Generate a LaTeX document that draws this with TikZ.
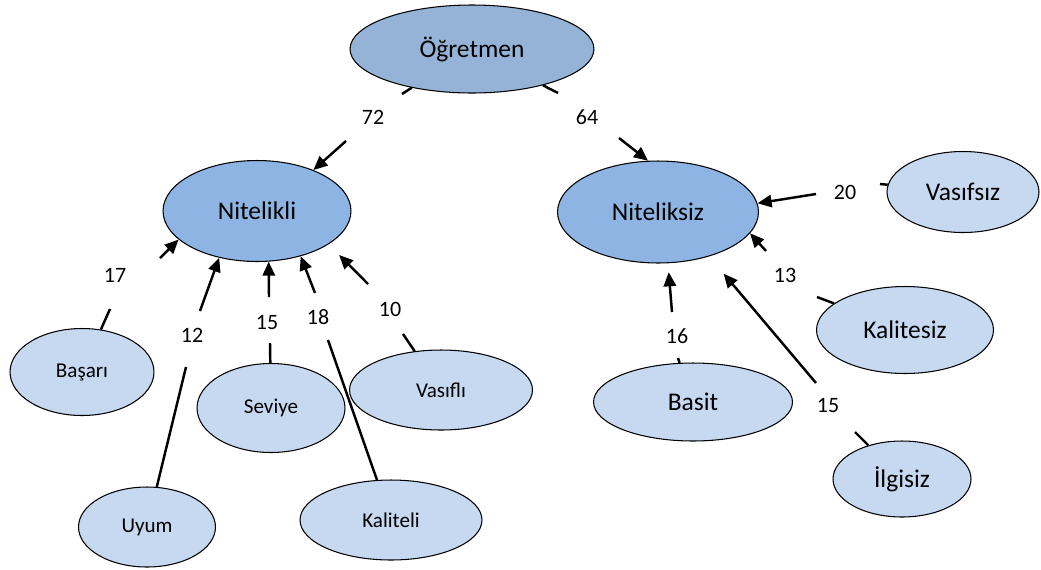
\documentclass[tikz,border=0pt]{standalone}
\usepackage{fontspec}
\setmainfont{Carlito}
\usepackage{xcolor}
\usepackage{tikz}
\usetikzlibrary{arrows.meta, shapes.geometric}

\definecolor{rootblue}{RGB}{149,179,215}
\definecolor{midblue}{RGB}{141,180,227}
\definecolor{leafblue}{RGB}{198,217,241}

\begin{document}
\begin{tikzpicture}[
    x=0.02cm, y=-0.02cm,
    topic/.style={ellipse, draw=black, line width=0.6pt, inner sep=0pt,
                  align=center, font=\fontsize{14.5}{16}\selectfont},
    leaf/.style={topic, fill=leafblue},
    small/.style={font=\fontsize{12}{14}\selectfont},
    num/.style={inner sep=1pt, font=\fontsize{12.5}{14}\selectfont},
    stub/.style={line width=1.4pt},
    arrow/.style={-{Triangle[length=8pt, width=7pt]}, line width=1.4pt}
  ]
  \useasboundingbox (0,0) rectangle (1041,569);

  \node[topic, fill=rootblue, minimum width=4.88cm, minimum height=1.76cm] (ogretmen) at (472,49) {Öğretmen};
  \node[topic, fill=midblue, minimum width=3.76cm, minimum height=2.02cm] (nitelikli) at (257,211) {Nitelikli};
  \node[topic, fill=midblue, minimum width=4.02cm, minimum height=2.04cm] (niteliksiz) at (658,212) {Niteliksiz};

  \node[leaf, minimum width=3.04cm, minimum height=1.62cm] (vasifsiz) at (963,192) {Vasıfsız};
  \node[leaf, minimum width=3.54cm, minimum height=1.74cm] (kalitesiz) at (905,330) {Kalitesiz};
  \node[leaf, minimum width=3.98cm, minimum height=1.56cm] (basit) at (693,402) {Basit};
  \node[leaf, minimum width=2.76cm, minimum height=1.52cm] (ilgisiz) at (902,479) {İlgisiz};
  \node[leaf, small, minimum width=2.88cm, minimum height=1.74cm] (basari) at (82,372) {Başarı};
  \node[leaf, small, minimum width=2.96cm, minimum height=1.78cm] (seviye) at (271,408) {Seviye};
  \node[leaf, small, minimum width=3.66cm, minimum height=1.60cm] (vasifli) at (441,390) {Vasıflı};
  \node[leaf, small, minimum width=2.74cm, minimum height=1.60cm] (uyum) at (147,527) {Uyum};
  \node[leaf, small, minimum width=3.64cm, minimum height=1.60cm] (kaliteli) at (391,520) {Kaliteli};

  \node[num] (l72) at (373,117) {72};
  \node[num] (l64) at (587,117) {64};
  \node[num] (l20) at (845,192) {20};
  \node[num] (l13) at (785,275) {13};
  \node[num] (l16) at (677,336) {16};
  \node[num] (l15b) at (828,405) {15};
  \node[num] (l17) at (115,275) {17};
  \node[num] (l12) at (192,335) {12};
  \node[num] (l15a) at (267,322) {15};
  \node[num] (l18) at (318,317) {18};
  \node[num] (l10) at (390,309) {10};

  \coordinate (s72) at (402,94);   \coordinate (t72) at (346,141);
  \coordinate (s64) at (558,93);   \coordinate (t64) at (619,138);
  \coordinate (s20) at (880,184);  \coordinate (t20) at (816,194);
  \coordinate (s13) at (817,297);  \coordinate (t13) at (766,251);
  \coordinate (s16) at (678,358);  \coordinate (t16) at (672,312);
  \coordinate (s15b) at (855,432); \coordinate (t15b) at (816,383);
  \coordinate (s17) at (110,309);  \coordinate (t17) at (160,258);
  \coordinate (s12) at (186,367);  \coordinate (t12) at (200,311);
  \coordinate (s15a) at (270,343); \coordinate (t15a) at (269,297);
  \coordinate (s18) at (328,340);  \coordinate (t18) at (315,293);
  \coordinate (s10) at (403,334);  \coordinate (t10) at (368,284);

  \draw[stub] (ogretmen) -- (s72);
  \draw[arrow] (t72) -- (nitelikli.36);
  \draw[stub] (ogretmen) -- (s64);
  \draw[arrow] (t64) -- (niteliksiz.101);

  \draw[stub] (vasifsiz) -- (s20);
  \draw[arrow] (t20) -- (niteliksiz.5);
  \draw[stub] (kalitesiz) -- (s13);
  \draw[arrow] (t13) -- (niteliksiz.347);
  \draw[stub] (basit) -- (s16);
  \draw[arrow, shorten >=0.18cm] (t16) -- (niteliksiz.281);
  \draw[stub] (ilgisiz) -- (s15b);
  \draw[arrow, shorten >=0.45cm] (t15b) -- (niteliksiz.319);

  \draw[stub] (basari) -- (s17);
  \draw[arrow] (t17) -- (nitelikli.200);
  \draw[stub] (uyum) -- (s12);
  \draw[arrow] (t12) -- (nitelikli.231);
  \draw[stub] (seviye) -- (s15a);
  \draw[arrow] (t15a) -- (nitelikli.283);
  \draw[stub] (kaliteli) -- (s18);
  \draw[arrow] (t18) -- (nitelikli.314);
  \draw[stub] (vasifli) -- (s10);
  \draw[arrow, shorten >=0.3cm] (t10) -- (nitelikli.335);
\end{tikzpicture}
\end{document}
